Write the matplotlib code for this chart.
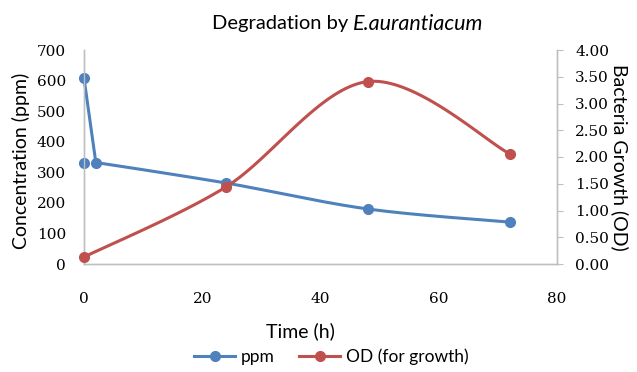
import numpy as np
import matplotlib
matplotlib.use('Agg')
import matplotlib.pyplot as plt
from matplotlib.lines import Line2D

# data
time_ppm = [0, 2, 24, 48, 72]
ppm = [608, 332, 265, 180, 137]
time_ppm_extra = [0]
ppm_extra = [332]

time_od = [0, 24, 48, 72]
od = [0.13, 1.44, 3.41, 2.06]

x_ticks = [0, 20, 40, 60, 80]
ppm_ticks = [0, 100, 200, 300, 400, 500, 600, 700]
od_ticks = [0, 0.5, 1, 1.5, 2, 2.5, 3, 3.5, 4]

BLUE = '#4F81BD'
RED = '#C0504D'
GREY = '#BFBFBF'

plt.rcParams['font.family'] = ['Lato', 'DejaVu Sans']


def smooth(xs, ys, xr, yr, n=40):
	# excel-like bezier smoothing in pixel space; sharp bends stay corners
	sx, sy = 473.0 / xr, 214.0 / yr
	p = np.column_stack([np.array(xs) * sx, np.array(ys) * sy])
	m = len(p)
	tang = []
	for i in range(m):
		p0 = p[i - 1] if i > 0 else p[i]
		p2 = p[i + 1] if i < m - 1 else p[i]
		d = (p2 - p0) / 6.0
		if 0 < i < m - 1:
			a, b = p[i] - p0, p2 - p[i]
			cos = a @ b / (np.linalg.norm(a) * np.linalg.norm(b))
			if cos < 0.35:
				d = d * 0
		tang.append(d)
	out = [p[0]]
	for i in range(m - 1):
		p1, p2 = p[i], p[i + 1]
		seg = np.linalg.norm(p2 - p1)
		d1, d2 = tang[i], tang[i + 1]
		for d in (d1, d2):
			if np.linalg.norm(d) > seg / 3:
				d *= seg / 3 / np.linalg.norm(d)
		c1, c2 = p1 + d1, p2 - d2
		t = np.linspace(0, 1, n)[1:, None]
		b = (1 - t) ** 3 * p1 + 3 * (1 - t) ** 2 * t * c1 + 3 * (1 - t) * t ** 2 * c2 + t ** 3 * p2
		out.extend(b)
	out = np.array(out)
	return out[:, 0] / sx, out[:, 1] / sy


fig = plt.figure(figsize=(6.37, 3.72), dpi=100)
ax = fig.add_axes([84 / 637, 1 - 264 / 372, 473 / 637, 214 / 372])
ax2 = ax.twinx()

ax.set_xlim(0, 80)
ax.set_ylim(0, 700)
ax2.set_ylim(0, 4)

sx, sy = smooth(time_ppm, ppm, 80, 700)
ax.plot(sx, sy, color=BLUE, lw=2.2, clip_on=False, zorder=3)
ax.plot(time_ppm, ppm, 'o', color=BLUE, ms=7, clip_on=False, zorder=4)
ax.plot(time_ppm_extra, ppm_extra, 'o', color=BLUE, ms=7, clip_on=False, zorder=4)

ox, oy = smooth(time_od, od, 80, 4)
ax2.plot(ox, oy, color=RED, lw=2.2, clip_on=False, zorder=3)
ax2.plot(time_od, od, 'o', color=RED, ms=7, clip_on=False, zorder=4)

ax.set_xticks(x_ticks)
ax.set_yticks(ppm_ticks)
ax2.set_yticks(od_ticks)
ax2.set_yticklabels(['%.2f' % v for v in od_ticks])

for lab in ax.get_xticklabels() + ax.get_yticklabels() + ax2.get_yticklabels():
	lab.set_fontfamily('DejaVu Serif')
	lab.set_fontsize(11)

for a in (ax, ax2):
	a.spines['top'].set_visible(False)
	for s in ('left', 'bottom', 'right'):
		a.spines[s].set_color(GREY)
		a.spines[s].set_linewidth(1)
ax.tick_params(axis='both', length=0, colors='black')
ax.tick_params(axis='y', pad=13)
ax.tick_params(axis='x', pad=20)
ax2.tick_params(axis='y', length=4, color=GREY, pad=9, labelcolor='black')

ax.set_xlabel('Time (h)', fontsize=14)
ax.xaxis.set_label_coords(0.457, -0.27)
ax.set_ylabel('Concentration (ppm)', fontsize=14)
ax.yaxis.set_label_coords(-0.115, 0.48)
ax2.set_ylabel('Bacteria Growth (OD)', fontsize=14, rotation=270, labelpad=14)

# title in two parts so the species name can be italic
fig.text(348 / 637, 1 - 24 / 372, 'Degradation by', fontsize=14.5, ha='right', va='center')
fig.text(353 / 637, 1 - 24 / 372, 'E.aurantiacum', fontsize=15.5, ha='left', va='center',
	style='italic')

handles = [
	Line2D([], [], color=BLUE, lw=2.2, marker='o', ms=7),
	Line2D([], [], color=RED, lw=2.2, marker='o', ms=7),
]
fig.legend(handles, ['ppm', 'OD (for growth)'], loc='center', ncol=2,
	bbox_to_anchor=(331 / 637, 1 - 357 / 372), frameon=False, fontsize=12.5,
	handlelength=2.4, columnspacing=1.4, handletextpad=0.3)

fig.savefig('out.png', dpi=100)
